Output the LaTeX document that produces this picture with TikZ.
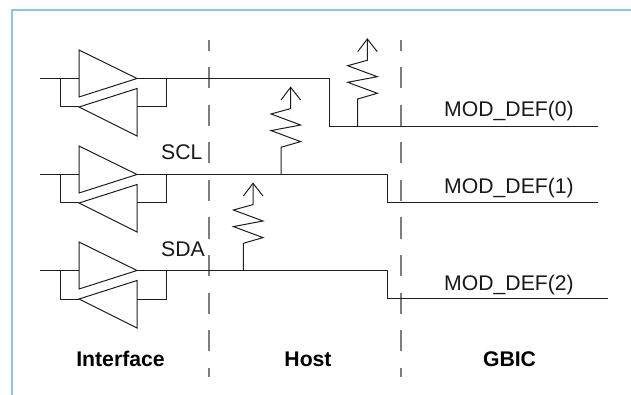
\documentclass[tikz,border=0pt]{standalone}
\usepackage{fontspec}
\setmainfont{Liberation Sans}
\definecolor{framecol}{RGB}{128,200,255}
\definecolor{guide}{RGB}{125,125,125}
\definecolor{wire}{RGB}{30,30,30}
\tikzset{
  wireline/.style={draw=wire,line width=1pt},
  framestyle/.style={draw=framecol,line width=2pt},
  guideline/.style={draw=guide,line width=1.2pt,dash pattern=on 21pt off 16.5pt,dash phase=10pt},
  lab/.style={inner sep=0pt,anchor=base west,font=\fontsize{21.2}{24}\selectfont,text=black!90},
  headlab/.style={inner sep=0pt,anchor=base,font=\fontsize{21.2}{24}\selectfont\bfseries,text=black},
  pics/buffer/.style={code={
    \draw[wireline] (40,0) -- (79,0);
    \draw[wireline] (79,-28.5) -- (137,0) -- (79,18.5) -- cycle;
    \draw[wireline] (137,10) -- (79,28.5) -- (137,57.5) -- cycle;
    \draw[wireline] (60,0) -- (60,28.5) -- (79,28.5);
    \draw[wireline] (137,28.5) -- (166,28.5) -- (166,0);
  }},
  pics/pullup/.style={code={
    \draw[wireline] (0,0) -- (0,-#1) -- (19.6,-#1-5.7) -- (-10,-#1-16.7) -- (19.6,-#1-22.3) -- (-10,-#1-33.3) -- (9.6,-#1-38.7) -- (9.6,-#1-60);
    \draw[wireline] (0,-#1-47.3) -- (9.6,-#1-60) -- (19.6,-#1-47.3);
  }}
}
\begin{document}
\begin{tikzpicture}[x=1pt,y=-1pt]
\useasboundingbox (0,0) rectangle (631,395);
\draw[framestyle] (631,10) -- (12.3,10) -- (12.3,395);
\coordinate (g1a) at (209,40); \coordinate (g1b) at (209,377);
\coordinate (g2a) at (401,40); \coordinate (g2b) at (401,377);
\draw[guideline] (g1a) -- (g1b);
\draw[guideline] (g2a) -- (g2b);
\pic at (0,78.5) {buffer};
\pic at (0,174.5) {buffer};
\pic at (0,270.5) {buffer};
\coordinate (a1) at (137,78.5); \coordinate (a2) at (329,78.5); \coordinate (a3) at (329,126.3); \coordinate (a4) at (598,126.3);
\coordinate (b1) at (137,174.5); \coordinate (b2) at (387,174.5); \coordinate (b3) at (387,203); \coordinate (b4) at (598,203);
\coordinate (c1) at (137,270.5); \coordinate (c2) at (387,270.5); \coordinate (c3) at (387,298.5); \coordinate (c4) at (608,298.5);
\draw[wireline] (a1) -- (a2) -- (a3) -- (a4);
\draw[wireline] (b1) -- (b2) -- (b3) -- (b4);
\draw[wireline] (c1) -- (c2) -- (c3) -- (c4);
\pic at (357.7,126.3) {pullup={27.3}};
\pic at (281,174.5) {pullup={27.2}};
\pic at (243.4,270.5) {pullup={27.2}};
\node[lab] (scl) at (161,160) {SCL};
\node[lab] (sda) at (161,256) {SDA};
\node[lab] (m0) at (444,116.7) {MOD\_DEF(0)};
\node[lab] (m1) at (444,194) {MOD\_DEF(1)};
\node[lab] (m2) at (444,290) {MOD\_DEF(2)};
\node[headlab] (h1) at (120.5,366) {Interface};
\node[headlab] (h2) at (308,366) {Host};
\node[headlab] (h3) at (509.5,366) {GBIC};
\end{tikzpicture}
\end{document}
